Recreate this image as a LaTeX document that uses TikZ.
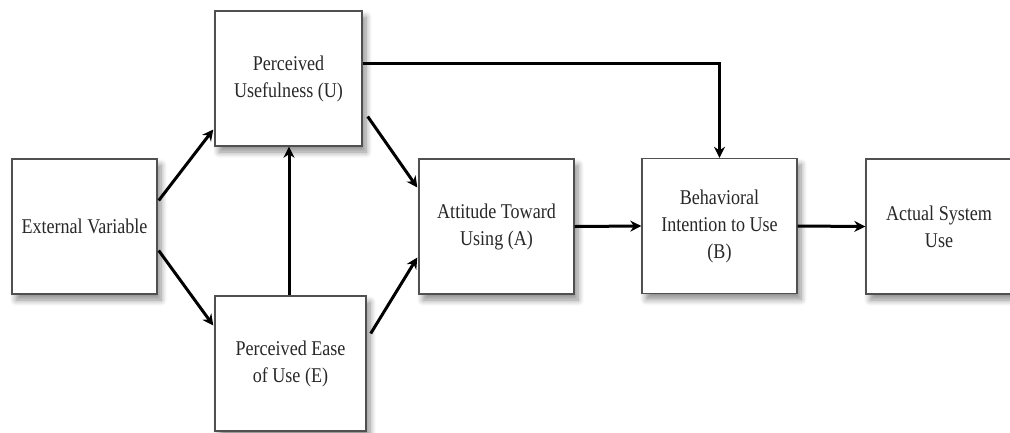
\documentclass[tikz,border=0pt]{standalone}
\usepackage{fontspec}
\setmainfont{Liberation Serif}[FakeStretch=0.86]
\usetikzlibrary{arrows.meta,shadows.blur}
\definecolor{boxline}{RGB}{80,80,80}
\definecolor{boxtext}{RGB}{40,40,40}
\begin{document}
\begin{tikzpicture}[x=1pt,y=-1pt,
  box/.style={draw=boxline,line width=1.4pt,align=center,
    text=boxtext,font=\fontsize{21}{27}\selectfont,inner sep=0pt,
    minimum height=135pt,
    blur shadow={shadow xshift=4pt,shadow yshift=-6pt,shadow blur steps=8,
      shadow blur radius=6pt,shadow opacity=45},fill=white},
  link/.style={line width=3pt,-{Stealth[length=11pt,width=11pt]}}]
  \useasboundingbox (0,0) rectangle (1010,432);
  \node[box,minimum width=145pt] (ext) at (84.5,226.5) {External Variable};
  \node[box,minimum width=147pt] (pu) at (288.5,78.5) {Perceived\\Usefulness (U)};
  \node[box,minimum width=151pt] (pe) at (290.5,363.5) {Perceived Ease\\of Use (E)};
  \node[box,minimum width=155pt] (att) at (496.5,226.5) {Attitude Toward\\Using (A)};
  \node[box,minimum width=155pt] (beh) at (719.5,226) {Behavioral\\Intention to Use\\(B)};
  \node[box,minimum width=146pt] (act) at (939,226.5) {Actual System\\Use};
  % connectors
  \draw[link] ([xshift=1pt,yshift=26pt]ext.east) -- ([xshift=-1pt,yshift=-51pt]pu.west);
  \draw[link] ([xshift=1pt,yshift=-24pt]ext.east) -- ([xshift=-1pt,yshift=38pt]pe.west);
  \draw[link] ([xshift=-1.5pt]pe.north) -- ([xshift=0.5pt]pu.south);
  \draw[link] ([xshift=5pt,yshift=-38pt]pu.east) -- ([xshift=-1pt,yshift=39pt]att.west);
  \draw[link] ([xshift=4pt,yshift=30pt]pe.east) -- ([xshift=-1pt,yshift=-31pt]att.west);
  \draw[link] (att.east) -- (beh.west);
  \draw[link] ([yshift=15pt]pu.east) -| (beh.north);
  \draw[link] (beh.east) -- (act.west);
\end{tikzpicture}
\end{document}
